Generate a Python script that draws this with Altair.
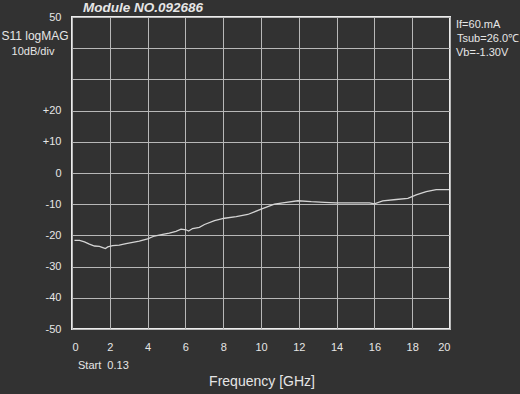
import altair as alt
import pandas as pd

freq_ghz = [0.13, 0.4, 0.66, 0.92, 1.19, 1.45, 1.63, 1.77, 1.89, 2.15, 2.5, 2.86, 3.21, 3.56,
            4.0, 4.36, 4.8, 5.15, 5.5, 5.77, 6.03, 6.17, 6.38, 6.74, 7.01, 7.54, 8.07, 8.69,
            9.30, 10.01, 10.71, 11.24, 11.95, 12.66, 13.36, 13.98, 14.86, 15.74, 16.0, 16.44,
            17.15, 17.77, 18.21, 18.74, 19.27, 19.95]
s11_db = [-21.6, -21.6, -22.1, -22.8, -23.4, -23.5, -23.9, -24.2, -23.7, -23.3, -23.1, -22.6,
          -22.2, -21.8, -21.1, -20.2, -19.7, -19.3, -18.7, -18.0, -18.2, -18.6, -17.8, -17.4,
          -16.5, -15.3, -14.5, -14.0, -13.3, -11.6, -10.0, -9.5, -8.9, -9.2, -9.4, -9.6, -9.6,
          -9.6, -9.9, -8.9, -8.5, -8.1, -7.0, -6.0, -5.3, -5.3]

x_ticks = list(range(0, 21, 2))
y_ticks = list(range(-50, 51, 10))

title_text = "Module NO.092686"
ylabel_lines = ["S11 logMAG", "10dB/div"]
cond_lines = ["If=60.mA", "Tsub=26.0\u2103", "Vb=-1.30V"]
start_text = "Start\u00a0\u00a00.13"
xlabel_text = "Frequency [GHz]"

FONT = "Liberation Sans"
FG = "#e6e6e6"
BG = "#323232"

df = pd.DataFrame({"f": freq_ghz, "s": s11_db})

x_enc = alt.X("f:Q", scale=alt.Scale(domain=[0, 20], nice=False, zero=False),
              axis=alt.Axis(values=x_ticks, title=None, grid=True, domain=False, ticks=False,
                            labelPadding=12, labelFontSize=11, labelColor=FG, labelFont=FONT,
                            gridColor="#b8b8b8", gridWidth=1, gridOpacity=1))
y_enc = alt.Y("s:Q", scale=alt.Scale(domain=[-50, 50], nice=False, zero=False),
              axis=alt.Axis(values=y_ticks, title=None, grid=True, domain=False, ticks=False,
                            labelPadding=11, labelFontSize=11, labelColor=FG, labelFont=FONT,
                            gridColor="#b8b8b8", gridWidth=1, gridOpacity=1,
                            labelExpr="datum.value == 40 || datum.value == 30 ? '' : (datum.value > 0 && datum.value < 50 ? '+' + datum.value : '' + datum.value)"))

line = alt.Chart(df).mark_line(color="#d4d4d4", strokeWidth=1.3).encode(x=x_enc, y=y_enc)

def txt(t, x, y, size=11, align="left", weight="normal", style="normal"):
    return alt.Chart(pd.DataFrame({"t": [t]})).mark_text(
        font=FONT, fontSize=size, color=FG, align=align, baseline="middle",
        fontWeight=weight, fontStyle=style).encode(
        text="t:N", x=alt.value(x), y=alt.value(y))

layers = [line,
          txt(title_text, 11, -9.5, size=13.5, weight="bold", style="italic"),
          txt(ylabel_lines[0], -37, 19, size=12, align="center"),
          txt(ylabel_lines[1], -39, 35, size=11, align="center"),
          txt(cond_lines[0], 384, 8),
          txt(cond_lines[1], 385, 22),
          txt(cond_lines[2], 384, 36),
          txt(start_text, 6, 349),
          txt(xlabel_text, 190, 365, size=14, align="center")]

chart = alt.layer(*layers).properties(
    width=378, height=312,
    autosize=alt.AutoSizeParams(type="none"),
    padding={"left": 72, "top": 17, "right": 70, "bottom": 65},
    background=BG,
).configure_view(stroke="#ececec", strokeWidth=2, fill=BG)

chart.save("out.html", embed_options={"renderer": "svg", "actions": False})
